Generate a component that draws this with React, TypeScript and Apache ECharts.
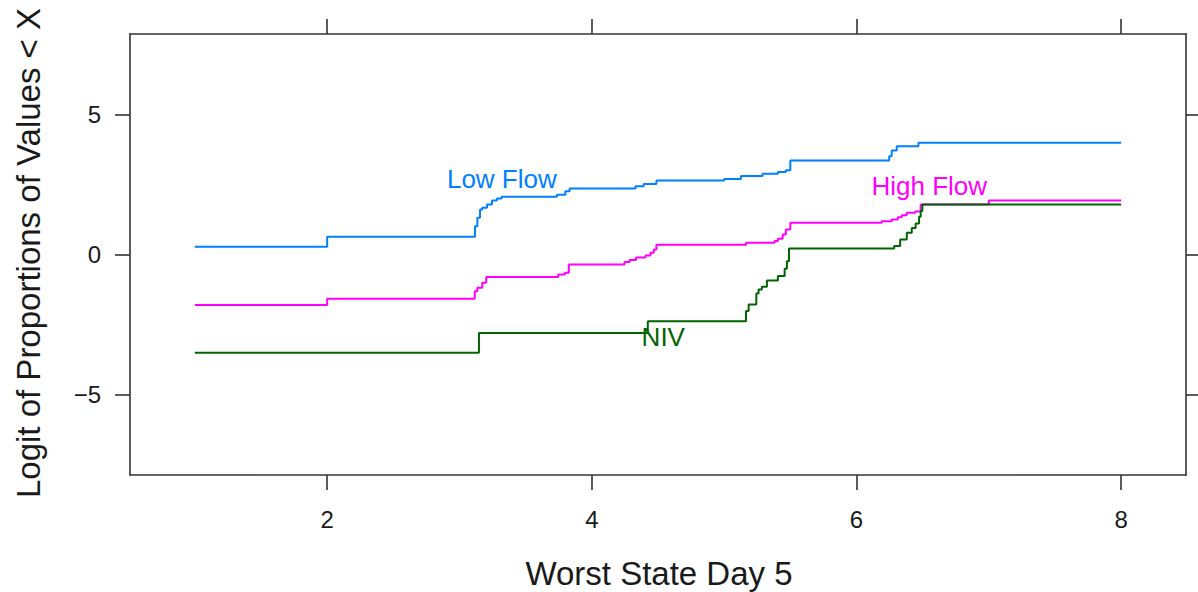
import React, { useEffect, useRef } from "react";
import * as echarts from "echarts";

// Step curves: [worst state on day 5, logit of cumulative proportion]
const lowFlow: [number, number][] = [
  [1, 0.28], [2.0, 0.63], [3.117, 1.01], [3.135, 1.31], [3.155, 1.61], [3.172, 1.67],
  [3.208, 1.79], [3.245, 1.93], [3.283, 2.0], [3.318, 2.06], [3.736, 2.13], [3.8, 2.26],
  [3.832, 2.36], [4.33, 2.44], [4.392, 2.52], [4.488, 2.64], [5.0, 2.7], [5.127, 2.8],
  [5.29, 2.88], [5.406, 2.95], [5.466, 3.01], [5.5, 3.36], [6.247, 3.51], [6.266, 3.71],
  [6.304, 3.87], [6.468, 3.99], [8, 3.99],
];

const highFlow: [number, number][] = [
  [1, -1.8], [2.0, -1.58], [3.115, -1.31], [3.135, -1.19], [3.172, -1.01], [3.202, -0.8],
  [3.746, -0.71], [3.796, -0.65], [3.826, -0.36], [4.247, -0.27], [4.285, -0.2],
  [4.334, -0.11], [4.405, -0.04], [4.443, 0.06], [4.468, 0.18], [4.488, 0.35],
  [5.165, 0.42], [5.381, 0.48], [5.406, 0.56], [5.442, 0.71], [5.466, 0.89], [5.5, 1.13],
  [6.19, 1.19], [6.266, 1.25], [6.312, 1.33], [6.342, 1.4], [6.38, 1.49], [6.443, 1.54],
  [6.485, 1.79], [7.0, 1.93], [8, 1.93],
];

const niv: [number, number][] = [
  [1, -3.51], [3.147, -2.8], [4.423, -2.38], [5.165, -2.02], [5.185, -1.79], [5.243, -1.39],
  [5.26, -1.25], [5.285, -1.15], [5.323, -0.93], [5.406, -0.77], [5.457, -0.51],
  [5.474, -0.24], [5.49, 0.21], [6.285, 0.3], [6.33, 0.54], [6.38, 0.78], [6.418, 0.95],
  [6.447, 1.11], [6.473, 1.35], [6.485, 1.55], [6.498, 1.79], [8, 1.79],
];

const seriesNames = ["Low Flow", "High Flow", "NIV"];
const seriesColors = ["#0080ff", "#ff00ff", "#006400"];
// where each curve's name is written, in data coordinates
const labelAnchors: [number, number][] = [[3.32, 2.68], [6.55, 2.43], [4.54, -2.96]];

const xTicks = [2, 4, 6, 8];
const yTicks = [-5, 0, 5];
const xRange = [0.51, 8.49];
const yRange = [-7.875, 7.875];

const FONT = '"Liberation Sans", Arial, sans-serif';
const INK = "#1a1a1a";

function axisCommon(ticks: number[], showLabels: boolean, margin: number) {
  return {
    type: "value" as const,
    axisLine: { show: true, onZero: false, lineStyle: { color: "#333", width: 1.6 } },
    axisTick: { show: true, customValues: ticks, length: 15, lineStyle: { color: "#333", width: 1.6 } },
    axisLabel: {
      show: showLabels,
      customValues: ticks,
      fontSize: 24,
      fontFamily: FONT,
      color: INK,
      margin,
      // typographic minus sign for negative ticks
      formatter: (v: number) => String(v).replace("-", "\u2212"),
    },
    splitLine: { show: false },
  };
}

export default function App() {
  const ref = useRef<HTMLDivElement>(null);

  useEffect(() => {
    document.body.style.margin = "0";
    const chart = echarts.init(ref.current!, null, { renderer: "svg" });
    const curves = [lowFlow, highFlow, niv];

    chart.setOption({
      animation: false,
      backgroundColor: "#ffffff",
      grid: { left: 130, right: 12, top: 34, bottom: 117 },
      xAxis: [
        { ...axisCommon(xTicks, true, 32), position: "bottom", min: xRange[0], max: xRange[1] },
        { ...axisCommon(xTicks, false, 8), position: "top", min: xRange[0], max: xRange[1] },
      ],
      yAxis: [
        { ...axisCommon(yTicks, true, 29), position: "left", min: yRange[0], max: yRange[1] },
        { ...axisCommon(yTicks, false, 8), position: "right", min: yRange[0], max: yRange[1] },
      ],
      series: curves.map((data, i) => ({
        name: seriesNames[i],
        type: "line",
        step: "end",
        xAxisIndex: 0,
        yAxisIndex: 0,
        symbol: "none",
        data,
        lineStyle: { color: seriesColors[i], width: 2 },
        z: 2 + i,
        markPoint: {
          silent: true,
          symbol: "circle",
          symbolSize: 0,
          data: [{ coord: labelAnchors[i] }],
          label: {
            show: true,
            position: "inside",
            formatter: seriesNames[i],
            fontSize: 26,
            fontFamily: FONT,
            color: seriesColors[i],
          },
        },
      })),
      graphic: [
        {
          type: "text",
          x: 28,
          y: 253,
          rotation: Math.PI / 2,
          style: {
            text: "Logit of Proportions of Values < X",
            font: `33px ${FONT}`,
            fill: INK,
            textAlign: "center",
            textVerticalAlign: "middle",
          },
        },
        {
          type: "text",
          x: 659,
          y: 573,
          style: {
            text: "Worst State Day 5",
            font: `33px ${FONT}`,
            fill: INK,
            textAlign: "center",
            textVerticalAlign: "middle",
          },
        },
      ],
    });

    return () => chart.dispose();
  }, []);

  return <div ref={ref} style={{ width: 1198, height: 592 }} />;
}
